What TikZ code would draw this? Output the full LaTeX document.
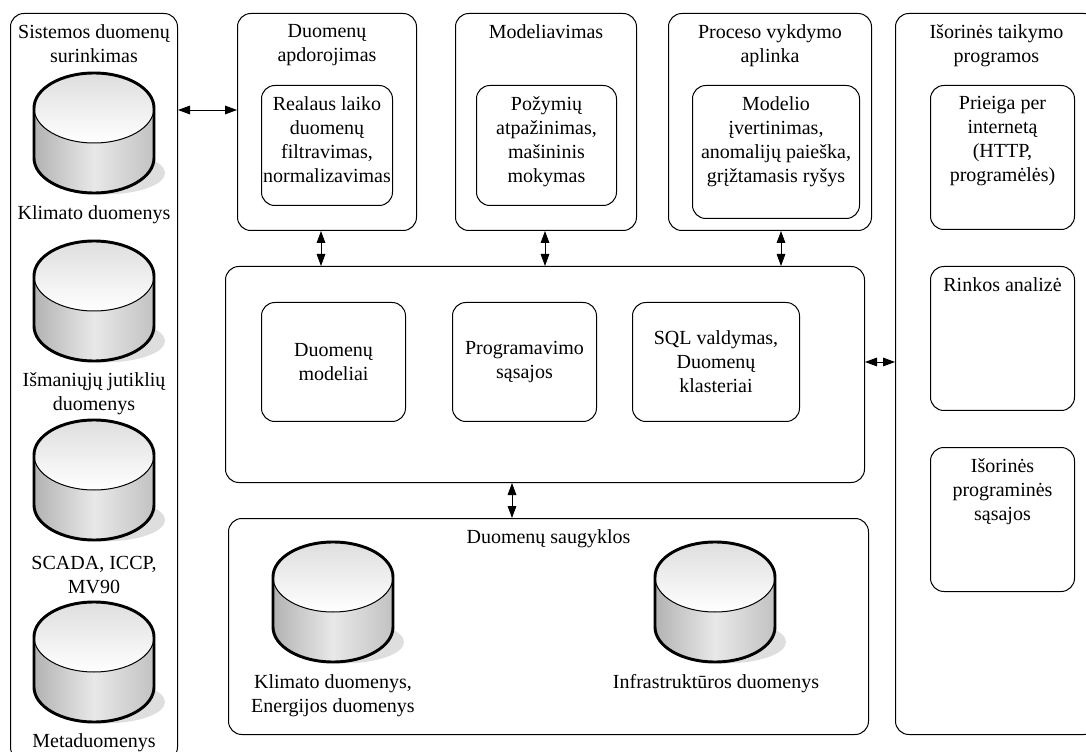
\documentclass[tikz,border=0pt]{standalone}
\usepackage{fontspec}
\setmainfont{Liberation Serif}
\usetikzlibrary{arrows.meta,
                positioning}
\tikzset{
  every node/.style={font=\fontsize{15}{18}\selectfont, align=center, inner sep=0pt},
  panel/.style 2 args={draw, line width=0.75pt, rounded corners=10pt, anchor=north west,
                       minimum width=#1*0.75pt, minimum height=#2*0.75pt},
  heading/.style={below=8.25pt of #1},
  link/.style={line width=0.6pt, {Triangle[length=9pt,width=6.5pt]}-{Triangle[length=9pt,width=6.5pt]}},
  pics/datastore/.style={code={
    \fill[black!13] (11,65) ellipse [x radius=45pt, y radius=16pt];
    \shade[left color=black!30, right color=black!24, middle color=black!9]
      (-60,0) -- (-60,50) arc [start angle=180, end angle=360, x radius=45pt, y radius=26.25pt]
      -- (60,0) arc [start angle=0, end angle=180, x radius=45pt, y radius=26.25pt] -- cycle;
    \shade[top color=black!13, bottom color=white] (0,0) ellipse [x radius=45pt, y radius=26.25pt];
    \draw[line width=0.75pt] (-60,0) arc [start angle=180, end angle=360, x radius=45pt, y radius=26.25pt];
    \draw[line width=2.2pt] (-60,0) -- (-60,50) arc [start angle=180, end angle=360, x radius=45pt, y radius=26.25pt]
      -- (60,0) arc [start angle=0, end angle=180, x radius=45pt, y radius=26.25pt] -- cycle;
  }}
}
\begin{document}
\begin{tikzpicture}[x=0.75pt, y=-0.75pt]
 \path[use as bounding box, clip] (0,0) rectangle (1086,752);

 \node[panel={167}{747}] (surinkimas) at (10,13) {};
 \node[heading=surinkimas.north] (surinkimasT) {Sistemos duomenų\\surinkimas};
 \path (94,108) pic {datastore} (94,276) pic {datastore} (94,455) pic {datastore} (94,637) pic {datastore};
 \node (klimatas) at (94,215) {Klimato duomenys};
 \node (jutikliai) at (94,394) {Išmaniųjų jutiklių\\duomenys};
 \node (scada) at (94,575) {SCADA, ICCP,\\MV90};
 \node (meta) at (94,743) {Metaduomenys};

 \node[panel={179}{217}] (apdorojimas) at (237,13) {};
 \node[heading=apdorojimas.north] (apdorojimasT) {Duomenų\\apdorojimas};
 \node[panel={131}{120}] (filtravimas) at (261,85) {};
 \node[heading=filtravimas.north] (filtravimasT) {Realaus laiko\\duomenų\\filtravimas,\\normalizavimas};

 \node[panel={181}{217}] (modeliavimas) at (455,13) {};
 \node[heading=modeliavimas.north] (modeliavimasT) {Modeliavimas};
 \node[panel={140}{120}] (atpazinimas) at (476,85) {};
 \node[heading=atpazinimas.north] (atpazinimasT) {Požymių\\atpažinimas,\\mašininis\\mokymas};

 \node[panel={203}{217}] (aplinka) at (668,13) {};
 \node[heading=aplinka.north] (aplinkaT) {Proceso vykdymo\\aplinka};
 \node[panel={167}{133}] (ivertinimas) at (692,85) {};
 \node[heading=ivertinimas.north] (ivertinimasT) {Modelio\\įvertinimas,\\anomalijų paieška,\\grįžtamasis ryšys};

 \node[panel={639}{216}] (vidurys) at (225,266) {};
 \node[panel={144}{119}] (modeliai) at (261,302) {Duomenų\\modeliai};
 \node[panel={144}{119}] (sasajos) at (452,302) {Programavimo\\sąsajos};
 \node[panel={167}{119}] (sql) at (632,302) {SQL valdymas,\\Duomenų\\klasteriai};

 \node[panel={640}{216}] (saugyklos) at (228,518) {};
 \node[heading=saugyklos.north] (saugyklosT) {Duomenų saugyklos};
 \path (333,577) pic {datastore} (715,577) pic {datastore};
 \node (energija) at (333,696) {Klimato duomenys,\\Energijos duomenys};
 \node (infra) at (716,684) {Infrastruktūros duomenys};

 \node[panel={202}{721}] (taikymas) at (895,13) {};
 \node[heading=taikymas.north] (taikymasT) {Išorinės taikymo\\programos};
 \node[panel={144}{144}] (prieiga) at (930,85) {};
 \node[heading=prieiga.north] (prieigaT) {Prieiga per\\internetą\\(HTTP,\\programėlės)};
 \node[panel={144}{144}] (rinka) at (930,266) {};
 \node[heading=rinka.north] (rinkaT) {Rinkos analizė};
 \node[panel={144}{144}] (isorines) at (930,447) {};
 \node[heading=isorines.north] (isorinesT) {Išorinės\\programinės\\sąsajos};

 \coordinate (linkA) at (321,110);
 \coordinate (linkB) at (545,110);
 \coordinate (linkC) at (781,110);
 \coordinate (linkD) at (512,110);
 \coordinate (linkE) at (880,362);
 \draw[link] (surinkimas.east |- linkA) -- (apdorojimas.west |- linkA);
 \draw[link] (apdorojimas.south -| linkA) -- (vidurys.north -| linkA);
 \draw[link] (modeliavimas.south -| linkB) -- (vidurys.north -| linkB);
 \draw[link] (aplinka.south -| linkC) -- (vidurys.north -| linkC);
 \draw[link] (vidurys.south -| linkD) -- (saugyklos.north -| linkD);
 \draw[link] (vidurys.east |- linkE) -- (taikymas.west |- linkE);
\end{tikzpicture}
\end{document}
